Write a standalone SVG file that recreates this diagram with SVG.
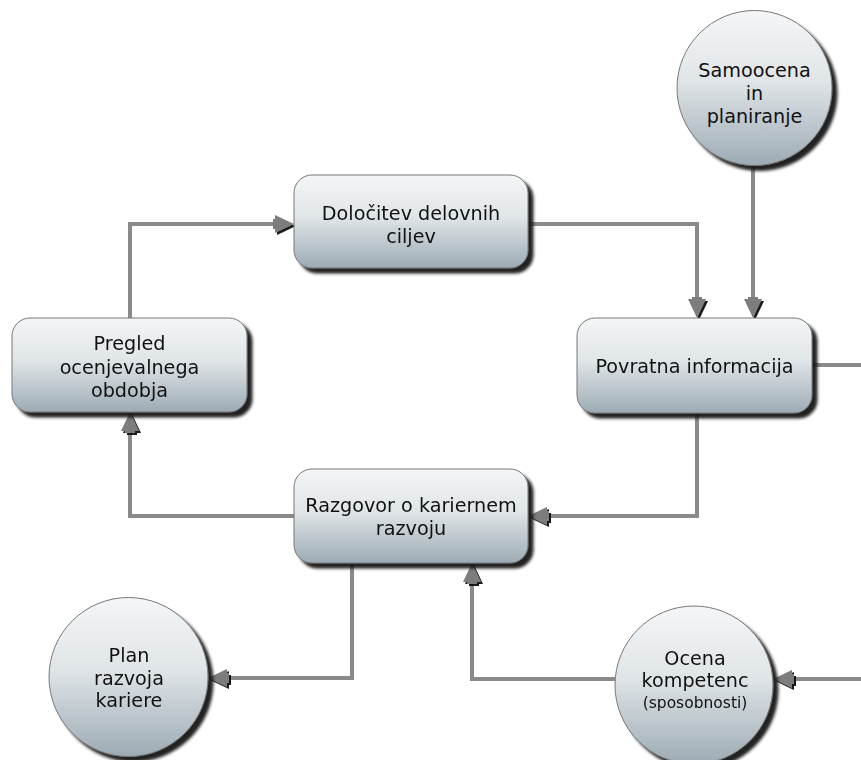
<svg xmlns="http://www.w3.org/2000/svg" xmlns:xlink="http://www.w3.org/1999/xlink" width="861" height="760" viewBox="0 0 861 760">
  <defs>
    <linearGradient id="fillGrad" x1="0" y1="0" x2="0" y2="1">
      <stop offset="0" stop-color="#f4f6f7"/>
      <stop offset="0.45" stop-color="#e0e5e8"/>
      <stop offset="1" stop-color="#9dabb4"/>
    </linearGradient>
    <filter id="nodeShadow" x="-10%" y="-10%" width="125%" height="130%">
      <feDropShadow dx="5" dy="5" stdDeviation="1.5" flood-color="#161616" flood-opacity="0.95"/>
    </filter>
    <filter id="headShadow" x="-30%" y="-30%" width="170%" height="170%">
      <feDropShadow dx="2" dy="2" stdDeviation="0.4" flood-color="#111" flood-opacity="0.95"/>
    </filter>
    <!-- arrowhead pointing along +x, tip at origin -->
    <path id="ah" d="M0,0 L-19,-9 L-19,-5 L-21,-5 L-21,5 L-19,5 L-19,9 Z"/>
    <style>
      .node { fill: url(#fillGrad); stroke: #777; stroke-width: 1; filter: url(#nodeShadow); }
      .lbl { font-family: "DejaVu Sans", Verdana, sans-serif; font-size: 19.2px; fill: #111; text-anchor: middle; }
      .small { font-size: 15.5px; }
      .wire { fill: none; stroke: #8a8a8a; stroke-width: 4; stroke-linejoin: miter; }
      .wire-hi { fill: none; stroke: #c8c8c8; stroke-width: 1.2; stroke-linejoin: miter; }
      .head { fill: #7d7d7d; }
    </style>
  </defs>

  <!-- connectors -->
  <g id="connectors">
    <g class="wires">
      <path id="c1" class="wire" d="M130,318 V224 H276"/>
      <path id="c2" class="wire" d="M528,224 H697 V300"/>
      <path id="c3" class="wire" d="M753,165 V300"/>
      <path id="c4" class="wire" d="M812,365 H861"/>
      <path id="c5" class="wire" d="M697,413 V516 H546"/>
      <path id="c6" class="wire" d="M294,516 H130 V430"/>
      <path id="c7" class="wire" d="M352,563 V678 H226"/>
      <path id="c8" class="wire" d="M615,679 H472 V581"/>
      <path id="c9" class="wire" d="M861,679 H791"/>
    </g>
    <g class="wire-highlights">
      <use xlink:href="#c1" class="wire-hi"/>
      <use xlink:href="#c2" class="wire-hi"/>
      <use xlink:href="#c3" class="wire-hi"/>
      <use xlink:href="#c4" class="wire-hi"/>
      <use xlink:href="#c5" class="wire-hi"/>
      <use xlink:href="#c6" class="wire-hi"/>
      <use xlink:href="#c7" class="wire-hi"/>
      <use xlink:href="#c8" class="wire-hi"/>
      <use xlink:href="#c9" class="wire-hi"/>
    </g>
    <g class="heads" filter="url(#headShadow)">
      <use xlink:href="#ah" class="head" transform="translate(294,224)"/>
      <use xlink:href="#ah" class="head" transform="translate(697,318) rotate(90)"/>
      <use xlink:href="#ah" class="head" transform="translate(753,318) rotate(90)"/>
      <use xlink:href="#ah" class="head" transform="translate(528,516) rotate(180)"/>
      <use xlink:href="#ah" class="head" transform="translate(130,412) rotate(-90)"/>
      <use xlink:href="#ah" class="head" transform="translate(208,678) rotate(180)"/>
      <use xlink:href="#ah" class="head" transform="translate(472,563) rotate(-90)"/>
      <use xlink:href="#ah" class="head" transform="translate(773,679) rotate(180)"/>
    </g>
  </g>

  <g id="dolocitev">
    <rect class="node" x="294" y="175" width="234" height="93" rx="18"/>
    <text class="lbl" x="411" y="220">Določitev delovnih</text>
    <text class="lbl" x="411" y="243">ciljev</text>
  </g>

  <g id="povratna">
    <rect class="node" x="577" y="318" width="235" height="95" rx="18"/>
    <text class="lbl" x="694.5" y="373">Povratna informacija</text>
  </g>

  <g id="pregled">
    <rect class="node" x="12" y="318" width="235" height="94" rx="18"/>
    <text class="lbl" x="129.5" y="350">Pregled</text>
    <text class="lbl" x="129.5" y="374">ocenjevalnega</text>
    <text class="lbl" x="129.5" y="397">obdobja</text>
  </g>

  <g id="razgovor">
    <rect class="node" x="294" y="469" width="234" height="94" rx="18"/>
    <text class="lbl" x="411" y="512">Razgovor o kariernem</text>
    <text class="lbl" x="411" y="535">razvoju</text>
  </g>

  <g id="samoocena">
    <circle class="node" cx="754.5" cy="88" r="77.5"/>
    <text class="lbl" x="754.5" y="77">Samoocena</text>
    <text class="lbl" x="754.5" y="100">in</text>
    <text class="lbl" x="754.5" y="123">planiranje</text>
  </g>

  <g id="plan">
    <circle class="node" cx="128.5" cy="677" r="79.5"/>
    <text class="lbl" x="129" y="662">Plan</text>
    <text class="lbl" x="129" y="685">razvoja</text>
    <text class="lbl" x="129" y="707">kariere</text>
  </g>

  <g id="ocena">
    <circle class="node" cx="694" cy="685" r="79"/>
    <text class="lbl" x="695" y="665">Ocena</text>
    <text class="lbl" x="695" y="687">kompetenc</text>
    <text class="lbl small" x="695" y="708">(sposobnosti)</text>
  </g>
</svg>
